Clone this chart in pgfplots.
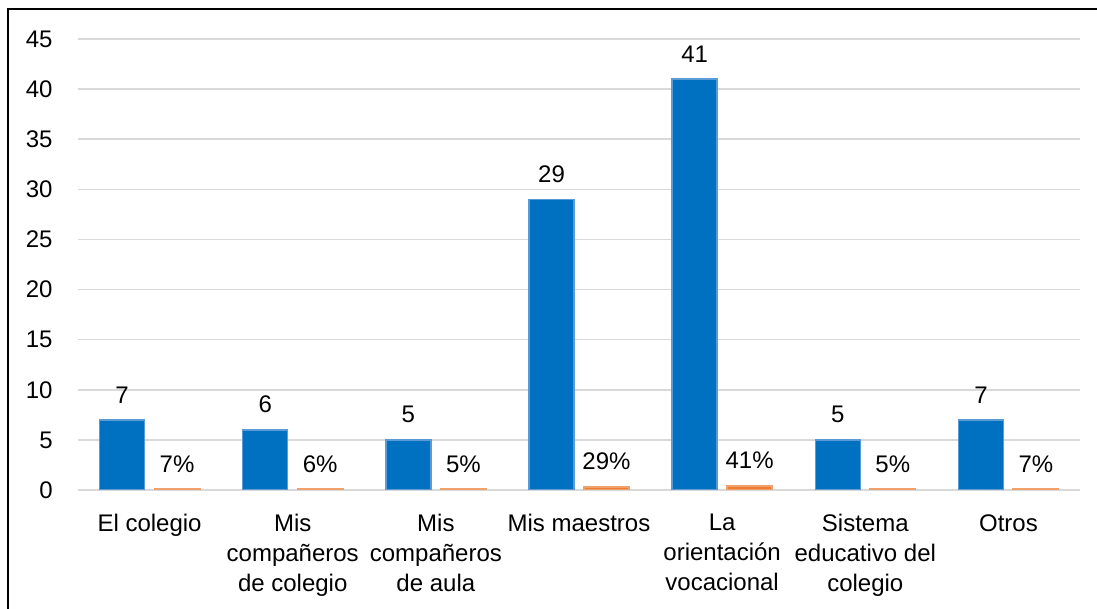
\documentclass[border=0pt]{standalone}
\usepackage{pgfplots}
\pgfplotsset{compat=1.18}
\usepackage{fontspec}
\setmainfont{Liberation Sans}
\definecolor{barblue}{HTML}{0070C0}
\definecolor{edgeblue}{HTML}{5B9BD5}
\definecolor{barorange}{HTML}{ED7D31}
\definecolor{edgeorange}{HTML}{F0A06A}
\definecolor{gridgray}{HTML}{D9D9D9}
\begin{document}
\fontsize{12}{14}\selectfont
\begin{tikzpicture}
\begin{axis}[
    scale only axis,
    width=501pt, height=225.5pt,
    ybar=5pt,
    bar width=22.5pt,
    xmin=-0.5, xmax=6.5,
    ymin=0, ymax=45,
    enlarge x limits=false,
    ytick={0,5,...,45},
    xtick={0,...,6},
    xticklabels={El colegio, {Mis\\compañeros\\de colegio}, {Mis\\compañeros\\de aula}, Mis maestros, {La\\orientación\\vocacional}, {Sistema\\educativo del\\colegio}, Otros},
    xticklabel style={align=center, inner sep=0pt, yshift=-12pt, font=\fontsize{12}{15}\selectfont},
    yticklabel style={inner sep=0pt, xshift=-12.5pt, font=\fontsize{12}{14}\selectfont},
    /pgf/number format/assume math mode=true,
    major tick length=0pt,
    axis line style={draw=none},
    ymajorgrids,
    grid style={gridgray, line width=0.75pt},
    nodes near coords,
    every node near coord/.append style={inner sep=0pt, yshift=8pt, font=\fontsize{12}{14}\selectfont, text=black},
]
\addplot[fill=barblue, draw=edgeblue, line width=0.75pt]
  coordinates {(0,7) (1,6) (2,5) (3,29) (4,41) (5,5) (6,7)};
\addplot[fill=barorange, draw=edgeorange, line width=1pt,
  point meta=explicit symbolic]
  coordinates {(0,0.07) [7\%] (1,0.06) [6\%] (2,0.05) [5\%] (3,0.29) [29\%]
               (4,0.41) [41\%] (5,0.05) [5\%] (6,0.07) [7\%]};
\coordinate (sw) at (rel axis cs:0,0);
\coordinate (ne) at (rel axis cs:1,1);
\end{axis}
\pgfresetboundingbox
\path ([xshift=-39pt,yshift=-59.5pt]sw) rectangle ([xshift=8.5pt,yshift=19.5pt]ne);
\draw[overlay, line width=1pt] ([xshift=-35pt,yshift=-80pt]sw) -- ([xshift=-35pt,yshift=15pt]sw |- ne) -- ([xshift=30pt,yshift=15pt]ne);
\end{tikzpicture}
\end{document}
